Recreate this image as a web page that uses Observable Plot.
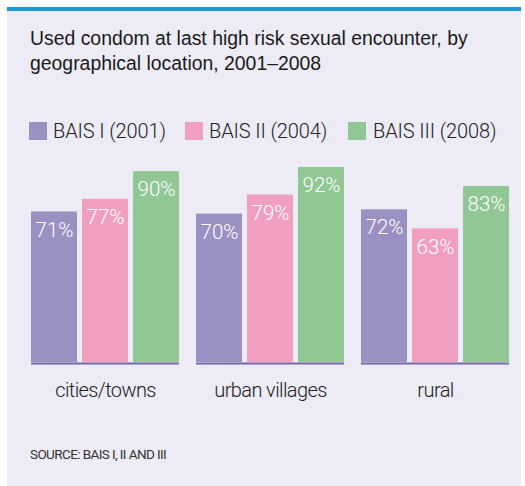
<!DOCTYPE html>
<html>
<head>
<meta charset="utf-8">
<script src="https://cdn.jsdelivr.net/npm/d3@7"></script>
<script src="https://cdn.jsdelivr.net/npm/@observablehq/plot@0.6"></script>
<style>
  html, body { margin: 0; padding: 0; background: #ffffff; width: 525px; height: 486px; overflow: hidden; }
  #panel { position: absolute; left: 7px; top: 7px; width: 514px; height: 479px; background: #edebf5; border-top: 4px solid #1b9ad6; box-sizing: border-box; }
  .title { position: absolute; left: 30px; top: 26px; font-family: "Liberation Sans", Arial, sans-serif; font-size: 19.4px; line-height: 25px; color: #1a1a1a; white-space: nowrap; }
  .sw { position: absolute; top: 122px; width: 18px; height: 18px; }
  .lt { position: absolute; top: 119px; font-family: Roboto, sans-serif; font-weight: 300; font-size: 20px; line-height: 24px; letter-spacing: -0.1px; color: #222; white-space: nowrap; }
  .source { position: absolute; left: 30px; top: 446px; font-family: Roboto, sans-serif; font-weight: 400; font-size: 13.5px; letter-spacing: -0.6px; color: #333; white-space: nowrap; }
  #chart { position: absolute; left: 0; top: 150px; }
</style>
</head>
<body>
<div id="panel"></div>
<div class="title">Used condom at last high risk sexual encounter, by<br>geographical location, 2001–2008</div>
<div id="legend"></div>
<div id="chart"></div>
<div class="source">SOURCE: BAIS I, II AND III</div>
<script>
const categories = ["cities/towns", "urban villages", "rural"];
const series = ["BAIS I (2001)", "BAIS II (2004)", "BAIS III (2008)"];
const bais1 = [71, 70, 72];
const bais2 = [77, 79, 63];
const bais3 = [90, 92, 83];
const colors = ["#9b90c2", "#f09fc0", "#90c795"];

const seriesValues = [bais1, bais2, bais3];
const data = [];
categories.forEach((c, i) => {
  series.forEach((s, j) => data.push({category: c, series: s, value: seriesValues[j][i]}));
});

// legend (HTML)
const legend = document.getElementById("legend");
const swX = [29, 185, 348];
const txX = [53, 209, 373];
series.forEach((s, j) => {
  const sw = document.createElement("div");
  sw.className = "sw"; sw.style.left = swX[j] + "px"; sw.style.background = colors[j];
  legend.appendChild(sw);
  const t = document.createElement("div");
  t.className = "lt"; t.style.left = txX[j] + "px"; t.textContent = s;
  legend.appendChild(t);
});

const chart = Plot.plot({
  width: 525,
  height: 260,
  marginLeft: 30,
  marginRight: 14,
  marginTop: 0,
  marginBottom: 48,
  style: {background: "transparent", fontFamily: "Roboto, sans-serif", overflow: "visible"},
  fx: {domain: categories, paddingInner: 0.1024, paddingOuter: 0, label: null},
  x: {domain: series, paddingInner: 0.107, paddingOuter: 0, axis: null},
  y: {domain: [0, 100], axis: null},
  color: {domain: series, range: colors},
  marks: [
    Plot.barY(data, {fx: "category", x: "series", y: "value", fill: "series"}),
    Plot.ruleY([0], {stroke: "#7467a9", strokeWidth: 2, dy: 1}),
    Plot.text(data, {fx: "category", x: "series", y: "value", text: d => d.value + "%", fill: "white", fontSize: 20.5, fontWeight: 300, lineAnchor: "top", dy: 10, style: "letter-spacing:-0.3px"}),
    Plot.axisFx({anchor: "bottom", tickSize: 0, tickPadding: 20, fontSize: 20, fontWeight: 300, fill: "#222", label: null})
  ]
});
chart.querySelectorAll("g[aria-label='fx-axis tick label'] text, g[aria-label='fx-axis tick label']").forEach(e => e.style.letterSpacing = "-0.6px");
document.getElementById("chart").appendChild(chart);
</script>
</body>
</html>
